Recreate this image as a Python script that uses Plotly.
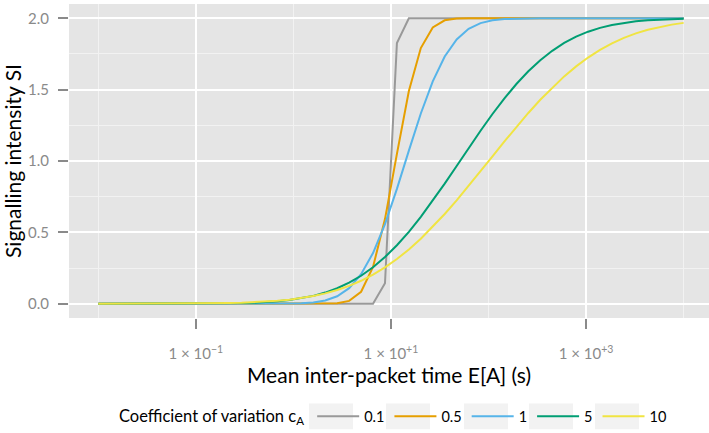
import plotly.graph_objects as go

# Mean inter-packet time E[A] (s), log-spaced grid
mean_time = [0.01, 0.013257, 0.017575, 0.0233, 0.030888, 0.040949, 0.054287, 0.071969,
             0.09541, 0.12649, 0.16768, 0.2223, 0.29471, 0.39069, 0.51795, 0.68665,
             0.9103, 1.2068, 1.5999, 2.121, 2.8118, 3.7276, 4.9417, 6.5513,
             8.6851, 11.514, 15.264, 20.236, 26.827, 35.565, 47.149, 62.506,
             82.864, 109.85, 145.64, 193.07, 255.95, 339.32, 449.84, 596.36,
             790.6, 1048.1, 1389.5, 1842.1, 2442.1, 3237.5, 4291.9, 5689.9,
             7543.1, 10000.0]

si_cv_0_1 = [0.0] * 24 + [0.143, 1.827] + [2.0] * 24

si_cv_0_5 = [0.0] * 18 + [0.0, 0.0004, 0.0035, 0.0201, 0.0839, 0.258, 0.593, 1.050,
                          1.490, 1.791, 1.936, 1.986, 1.998] + [2.0] * 19

si_cv_1 = [0.0] * 13 + [0.0, 0.0001, 0.0003, 0.001, 0.0031, 0.0089, 0.0227, 0.0523,
                        0.1093, 0.2066, 0.3553, 0.558, 0.805, 1.073, 1.333, 1.558,
                        1.732, 1.852, 1.926, 1.966, 1.986, 1.995, 1.998, 1.9995] + [2.0] * 13

si_cv_5 = [0.0, 0.0, 0.00001, 0.00002, 0.00004, 0.00008, 0.00015, 0.00028,
           0.0005, 0.0009, 0.0015, 0.0026, 0.0043, 0.0070, 0.0110, 0.0170,
           0.0257, 0.0381, 0.0551, 0.0781, 0.1084, 0.1473, 0.1960, 0.2556,
           0.3268, 0.4097, 0.5040, 0.6086, 0.7220, 0.8418, 0.9654, 1.0898,
           1.2120, 1.3294, 1.4390, 1.5394, 1.6286, 1.7064, 1.7722, 1.8270,
           1.8712, 1.9060, 1.9329, 1.9531, 1.9679, 1.9785, 1.9859, 1.9910,
           1.9944, 1.9965]

si_cv_10 = [0.00002, 0.00003, 0.00006, 0.0001, 0.00017, 0.00028, 0.00046, 0.00075,
            0.0012, 0.0019, 0.0029, 0.0044, 0.0066, 0.0098, 0.0142, 0.0203,
            0.0285, 0.0395, 0.0540, 0.0725, 0.0960, 0.1252, 0.1608, 0.2037,
            0.2544, 0.3132, 0.3803, 0.4557, 0.5387, 0.6287, 0.7246, 0.8250,
            0.9284, 1.0330, 1.1371, 1.2388, 1.3365, 1.4289, 1.5146, 1.5928,
            1.6630, 1.7249, 1.7785, 1.8242, 1.8625, 1.8940, 1.9195, 1.9397,
            1.9556, 1.9678]

series_names = ["0.1", "0.5", "1", "5", "10"]
series_values = [si_cv_0_1, si_cv_0_5, si_cv_1, si_cv_5, si_cv_10]
series_colors = ["#999999", "#E69F00", "#56B4E9", "#009E73", "#F0E442"]

x_tick_vals = [0.1, 10, 1000]
x_tick_text = ["1 × 10<sup>−1</sup>", "1 × 10<sup>+1</sup>", "1 × 10<sup>+3</sup>"]
x_minor_vals = [0.01, 1, 100, 10000]
y_tick_vals = [0, 0.5, 1, 1.5, 2]
y_tick_text = ["0.0", "0.5", "1.0", "1.5", "2.0"]
y_minor_vals = [0.25, 0.75, 1.25, 1.75]

# legend key background boxes (pixel spans in the 709x433 canvas)
key_box_px = [(309, 353), (386, 430), (464, 508), (529, 573), (595, 639)]

FONT = "Lato"
TICK_GREY = "#8A8A8A"
W, H = 709, 433
ML, MR, MT, MB = 69, 0, 4, 113
PW, PH = W - ML - MR, H - MT - MB

fig = go.Figure()
for name, vals, col in zip(series_names, series_values, series_colors):
    fig.add_trace(go.Scatter(x=mean_time, y=vals, mode="lines", name=name,
                             line=dict(color=col, width=2)))

for x0, x1 in key_box_px:
    fig.add_shape(type="rect", xref="paper", yref="paper",
                  x0=(x0 - ML) / PW, x1=(x1 - ML) / PW,
                  y0=(MT + PH - 432) / PH, y1=(MT + PH - 406) / PH,
                  fillcolor="#F2F2F2", line=dict(width=0), layer="below")

fig.update_layout(
    width=W, height=H,
    margin=dict(l=ML, r=MR, t=MT, b=MB),
    plot_bgcolor="#E5E5E5", paper_bgcolor="white",
    font=dict(family=FONT, size=14, color="black"),
    showlegend=True,
    legend=dict(orientation="h", x=(117 - ML) / PW, xanchor="left",
                y=(MT + PH - 419) / PH, yanchor="middle", itemwidth=42,
                title=dict(text="Coefficient of variation c<sub>A</sub>", side="left",
                           font=dict(size=16.5)),
                font=dict(size=14.5), bgcolor="rgba(0,0,0,0)"),
)

fig.update_xaxes(
    type="log", range=[-2.3, 4.26],
    tickmode="array", tickvals=x_tick_vals, ticktext=x_tick_text,
    showgrid=True, gridcolor="white", gridwidth=2,
    minor=dict(tickmode="array", tickvals=x_minor_vals, showgrid=True,
               gridcolor="#F2F2F2", gridwidth=1, ticks=""),
    ticks="outside", ticklen=10, tickwidth=1.6, tickcolor=TICK_GREY,
    ticklabelstandoff=12,
    tickfont=dict(family=FONT, size=15, color=TICK_GREY),
    zeroline=False, showline=False,
    title=dict(text="Mean inter-packet time E[A] (s)", font=dict(family=FONT, size=21),
               standoff=4),
)
fig.update_yaxes(
    range=[-0.1, 2.1],
    tickmode="array", tickvals=y_tick_vals, ticktext=y_tick_text,
    showgrid=True, gridcolor="white", gridwidth=2,
    minor=dict(tickmode="array", tickvals=y_minor_vals, showgrid=True,
               gridcolor="#F2F2F2", gridwidth=1, ticks=""),
    ticks="outside", ticklen=10, tickwidth=1.6, tickcolor=TICK_GREY,
    ticklabelstandoff=6,
    tickfont=dict(family=FONT, size=15, color=TICK_GREY),
    zeroline=False, showline=False,
    title=dict(text="Signalling intensity SI", font=dict(family=FONT, size=21),
               standoff=4),
)

fig.write_html("out.html")
